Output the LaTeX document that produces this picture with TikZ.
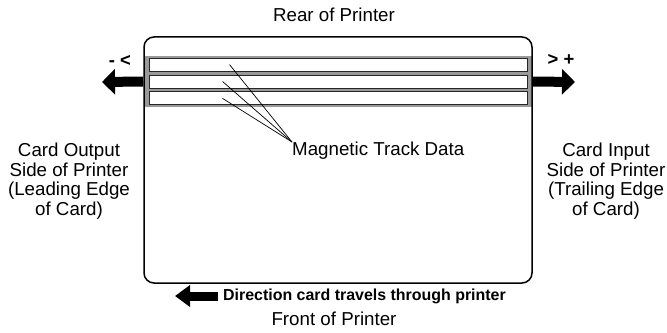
\documentclass[tikz,border=0pt]{standalone}
\usepackage{fontspec}
\setmainfont{Liberation Sans}
\usetikzlibrary{arrows.meta,positioning}
\definecolor{bandgray}{gray}{0.6}
\tikzset{
  card/.style={draw=black, line width=1.5bp, rounded corners=10bp, inner sep=0pt, minimum width=388bp, minimum height=246bp},
  band/.style={fill=bandgray, inner sep=0pt, minimum width=388bp, minimum height=51bp},
  track/.style={draw=black!85, fill=white, line width=0.9bp, inner sep=0pt, minimum width=378bp, minimum height=13bp},
  txt/.style={font=\fontsize{18.8}{19.5}\selectfont, inner sep=0pt},
  sidetxt/.style={txt, align=center},
  boldtxt/.style={font=\bfseries\fontsize{16}{18}\selectfont, inner sep=0pt},
  signtxt/.style={font=\bfseries\fontsize{18.5}{20}\selectfont, inner sep=0pt},
  leader/.style={line width=0.7bp},
  bigarrow/.style={-{Triangle[length=13bp,width=25bp]}, line width=10bp},
  dirarrow/.style={-{Triangle[length=15bp,width=21bp]}, line width=9bp}
}

\begin{document}
\begin{tikzpicture}[x=1bp, y=1bp]
\useasboundingbox (0,0) rectangle (667,332);
% stripe and tracks
\node[band] (band) at (338,250.5) {};
\node[track] (trk2) at (band.center) {};
\node[track, above=3bp of trk2] (trk1) {};
\node[track, below=3bp of trk2] (trk3) {};
\node[card] (card) at (338,172) {};
% labels
\node[txt, anchor=base] (rear) at (334,311) {Rear of Printer};
\node[txt, anchor=base] (front) at (334,7) {Front of Printer};
\node[txt, anchor=north west] (mag) at (292,190) {Magnetic Track Data};
\node[sidetxt, anchor=north] (outside) at (69,189) {Card Output\\Side of Printer\\(Leading Edge\\of Card)};
\node[sidetxt, anchor=north] (inside) at (606,189) {Card Input\\Side of Printer\\(Trailing Edge\\of Card)};
\node[signtxt] (minus) at (120,271) {- <};
\node[signtxt] (plus) at (561,272) {> +};
\node[boldtxt, anchor=west] (dir) at (223,36) {Direction card travels through printer};
% leaders
\coordinate (p1) at ([xshift=81bp]trk1.west);
\coordinate (p2) at ([xshift=74bp]trk2.west);
\coordinate (p3) at ([xshift=74bp]trk3.west);
\foreach \p in {p1,p2,p3}
  \draw[leader] (\p) -- (mag.north west);
% arrows
\coordinate (outtip) at (102,250);
\coordinate (intip) at (575,250);
\coordinate (dirtip) at (175,36);
\draw[bigarrow] (card.west |- trk2.center) -- (outtip);
\draw[bigarrow] (card.east |- trk2.center) -- (intip);
\draw[dirarrow] ([xshift=-5bp]dir.west) -- (dirtip);
\end{tikzpicture}
\end{document}
